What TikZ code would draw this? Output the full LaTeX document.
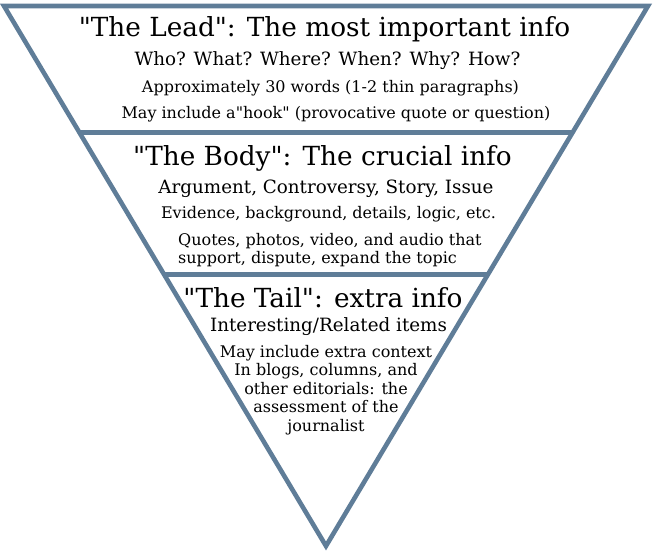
\documentclass[tikz,border=0pt]{standalone}
\usepackage{fontspec}
\newfontfamily\funnelfont{DejaVu Serif}
\usetikzlibrary{positioning,calc}
\definecolor{rimblue}{RGB}{95,125,152}

\begin{document}
\begin{tikzpicture}[x=1pt,y=-1pt,
    rim/.style={draw=rimblue,line width=4.6pt,line join=miter},
    head/.style={anchor=base,inner sep=0pt,font=\funnelfont\fontsize{26.3}{30}\selectfont},
    sub/.style={anchor=base,inner sep=0pt,font=\funnelfont\fontsize{18.3}{21}\selectfont},
    note/.style={anchor=base,inner sep=0pt,font=\funnelfont\fontsize{16}{18}\selectfont}]
  \useasboundingbox (0,0) rectangle (654,554);
  % the funnel
  \coordinate (top left) at (4,6);
  \coordinate (top right) at (648,6);
  \coordinate (tip) at (326,546);
  \coordinate (lead left) at ($(top left)!0.2345!(tip)$);
  \coordinate (lead right) at ($(top right)!0.2345!(tip)$);
  \coordinate (body left) at ($(top left)!0.497!(tip)$);
  \coordinate (body right) at ($(top right)!0.497!(tip)$);
  \draw[rim] (top left) -- (top right) -- (tip) -- cycle;
  \draw[rim] (lead left) -- (lead right);
  \draw[rim] (body left) -- (body right);
  % the lead
  \node[head] (lead title) at (324.5,36.5) {"The Lead": The most important info};
  \node[sub] (lead who) at (327.5,65) {Who? What? Where? When? Why? How?};
  \node[note] (lead words) at (330.5,92) {Approximately 30 words (1-2 thin paragraphs)};
  \node[note] (lead hook) at (336,118) {May include a"hook" (provocative quote or question)};
  % the body
  \node[head] (body title) at (322.5,165) {"The Body": The crucial info};
  \node[sub] (body topics) at (326,193) {Argument, Controversy, Story, Issue};
  \node[note] (body evidence) at (328.5,218) {Evidence, background, details, logic, etc.};
  \node[note,align=left,anchor=base west] (body media) at (178,263)
    {Quotes, photos, video, and audio that\\support, dispute, expand the topic};
  % the tail
  \node[head] (tail title) at (323,307) {"The Tail": extra info};
  \node[sub] (tail items) at (328.5,331) {Interesting/Related items};
  \node[note,align=center,font=\funnelfont\fontsize{16}{18.5}\selectfont] (tail context) at (326,431)
    {May include extra context\\In blogs, columns, and\\other editorials: the\\assessment of the\\journalist};
\end{tikzpicture}
\end{document}
